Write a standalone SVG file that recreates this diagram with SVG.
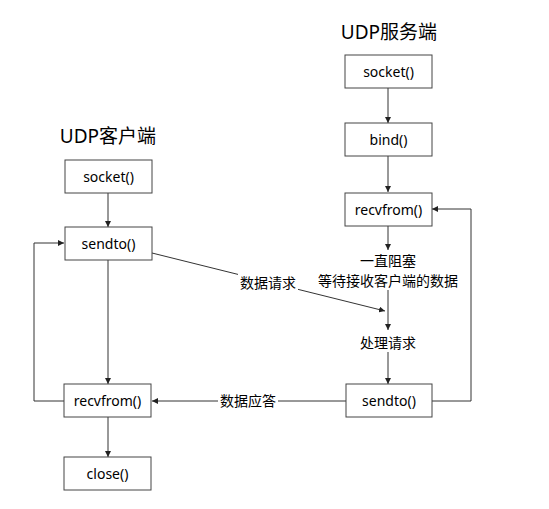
<svg xmlns="http://www.w3.org/2000/svg" width="549" height="509" viewBox="0 0 549 509">
<defs>
<marker id="ah" viewBox="0 0 8 8" refX="8" refY="4" markerWidth="6" markerHeight="6" markerUnits="userSpaceOnUse" orient="auto">
<path d="M0,0 L8,4 L0,8 z" fill="#222"/>
</marker>
<style>
.box{fill:#fff;stroke:#444;stroke-width:1}
.t{font-family:"Noto Sans","Noto Sans CJK SC",sans-serif;font-size:14px;fill:#000;text-anchor:middle;dominant-baseline:central}
.title{font-family:"Noto Sans","Noto Sans CJK SC",sans-serif;font-size:19px;fill:#000;text-anchor:middle;dominant-baseline:central}
.c{fill:none;stroke:#333;stroke-width:1;marker-end:url(#ah)}
</style>
</defs>
<rect width="549" height="509" fill="#fff"/>
<text class="title" x="389" y="32">UDP服务端</text>
<text class="title" x="108" y="136">UDP客户端</text>
<g id="connectors">
<line class="c" x1="388" y1="88" x2="388" y2="123"/>
<line class="c" x1="388" y1="156" x2="388" y2="192"/>
<line class="c" x1="388" y1="226" x2="388" y2="250"/>
<line class="c" x1="388" y1="290" x2="388" y2="330"/>
<line class="c" x1="388" y1="352" x2="388" y2="384"/>
<line class="c" x1="108" y1="193" x2="108" y2="227"/>
<line class="c" x1="108" y1="260" x2="108" y2="384"/>
<line class="c" x1="108" y1="417" x2="108" y2="457"/>
<polyline class="c" points="64,401 34,401 34,243 64,243"/>
<polyline class="c" points="432,401 471,401 471,209 432,209"/>
<line class="c" x1="152" y1="253" x2="385" y2="311"/>
<line class="c" x1="346" y1="401" x2="152" y2="401"/>
<rect x="238" y="273" width="60" height="18" fill="#fff"/>
<text class="t" x="268" y="282">数据请求</text>
<rect x="218" y="391" width="60" height="18" fill="#fff"/>
<text class="t" x="248" y="400">数据应答</text>
<text class="t" x="388" y="260">一直阻塞</text>
<text class="t" x="388" y="280">等待接收客户端的数据</text>
<text class="t" x="388" y="342">处理请求</text>
</g>
<g id="s_socket"><rect class="box" x="345" y="55" width="87" height="33"/><text class="t" x="388.5" y="71.5">socket()</text></g>
<g id="s_bind"><rect class="box" x="345" y="123" width="87" height="33"/><text class="t" x="388.5" y="139.5">bind()</text></g>
<g id="s_recvfrom"><rect class="box" x="345" y="193" width="87" height="33"/><text class="t" x="388.5" y="209.5">recvfrom()</text></g>
<g id="s_sendto"><rect class="box" x="346" y="384" width="86" height="33"/><text class="t" x="389" y="400.5">sendto()</text></g>
<g id="c_socket"><rect class="box" x="65" y="160" width="87" height="33"/><text class="t" x="108.5" y="176.5">socket()</text></g>
<g id="c_sendto"><rect class="box" x="65" y="227" width="87" height="33"/><text class="t" x="108.5" y="243.5">sendto()</text></g>
<g id="c_recvfrom"><rect class="box" x="64" y="384" width="87" height="33"/><text class="t" x="107.5" y="400.5">recvfrom()</text></g>
<g id="c_close"><rect class="box" x="64" y="457" width="87" height="33"/><text class="t" x="107.5" y="473.5">close()</text></g>
</svg>
